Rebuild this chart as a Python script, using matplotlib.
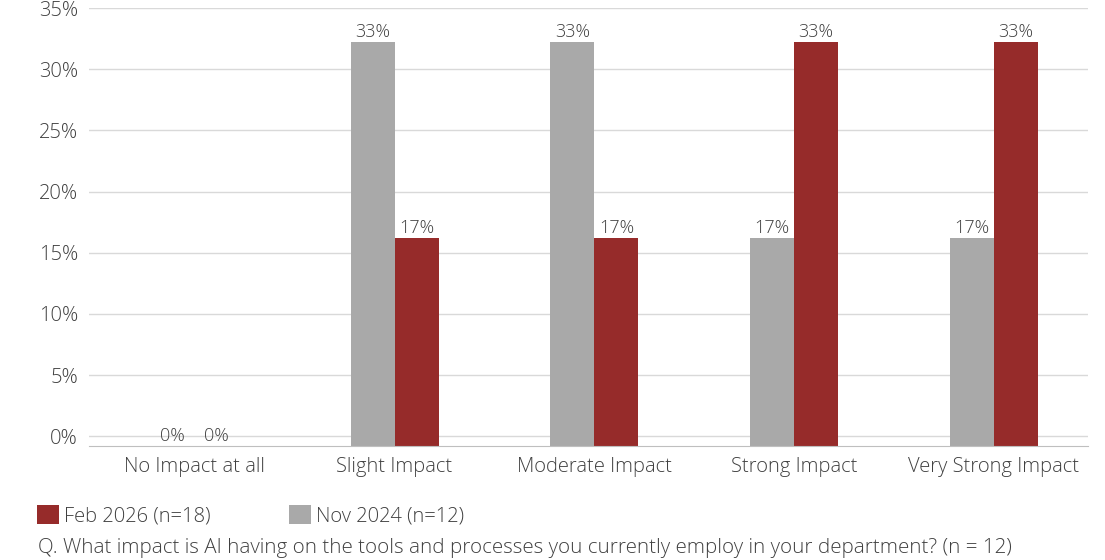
import numpy as np
import matplotlib.pyplot as plt

categories = ['No Impact at all', 'Slight Impact', 'Moderate Impact', 'Strong Impact', 'Very Strong Impact']
nov_2024 = [0, 33, 33, 17, 17]
feb_2026 = [0, 17, 17, 33, 33]
nov_label = 'Nov 2024 (n=12)'
feb_label = 'Feb 2026 (n=18)'
question = 'Q. What impact is AI having on the tools and processes you currently employ in your department? (n = 12)'

red = '#962B2A'
gray = '#A9A9A9'
text_color = '#404040'

plt.rcParams['font.family'] = ['Open Sans', 'DejaVu Sans']
plt.rcParams['font.weight'] = 'light'

fig = plt.figure(figsize=(11.05, 5.6), dpi=100)
ax = fig.add_axes([0.0805, 0.2036, 0.904, 0.7821])

base = -0.8
x = np.arange(len(categories))
w = 0.22
b1 = ax.bar(x - w / 2, nov_2024, w, bottom=base, color=gray, label=nov_label, zorder=3)
b2 = ax.bar(x + w / 2, feb_2026, w, bottom=base, color=red, label=feb_label, zorder=3)

for bars, vals in ((b1, nov_2024), (b2, feb_2026)):
    for r, v in zip(bars, vals):
        ax.annotate(f'{v}%', (r.get_x() + r.get_width() / 2, v + base),
                    xytext=(0, 1), textcoords='offset points',
                    ha='center', va='bottom', fontsize=13, color=text_color)

ax.set_xlim(-0.53, 4.47)
ax.set_ylim(base, 35)
ax.set_yticks(np.arange(0, 36, 5))
ax.set_yticklabels([f'{t}%' for t in range(0, 36, 5)])
ax.set_xticks(x)
ax.set_xticklabels(categories)
ax.tick_params(axis='y', length=0, pad=8, labelsize=14.5, labelcolor=text_color)
ax.tick_params(axis='x', length=0, pad=8, labelsize=14.5, labelcolor=text_color)
ax.grid(axis='y', color='#D9D9D9', linewidth=1, zorder=0)
for s in ['top', 'right', 'left']:
    ax.spines[s].set_visible(False)
ax.spines['bottom'].set_color('#BFBFBF')
ax.spines['bottom'].set_zorder(4)

handles = [b2, b1]
leg = fig.legend(handles, [feb_label, nov_label], loc='center left',
                 bbox_to_anchor=(0.026, 0.079), ncol=2, frameon=False,
                 fontsize=14.5, handlelength=1.1, handleheight=1.1,
                 handletextpad=0.25, columnspacing=3.9, borderaxespad=0)
for t in leg.get_texts():
    t.set_color(text_color)

fig.text(0.034, 0.004, question, ha='left', va='bottom', fontsize=14.8, color=text_color)

fig.savefig('out.png', dpi=100)
